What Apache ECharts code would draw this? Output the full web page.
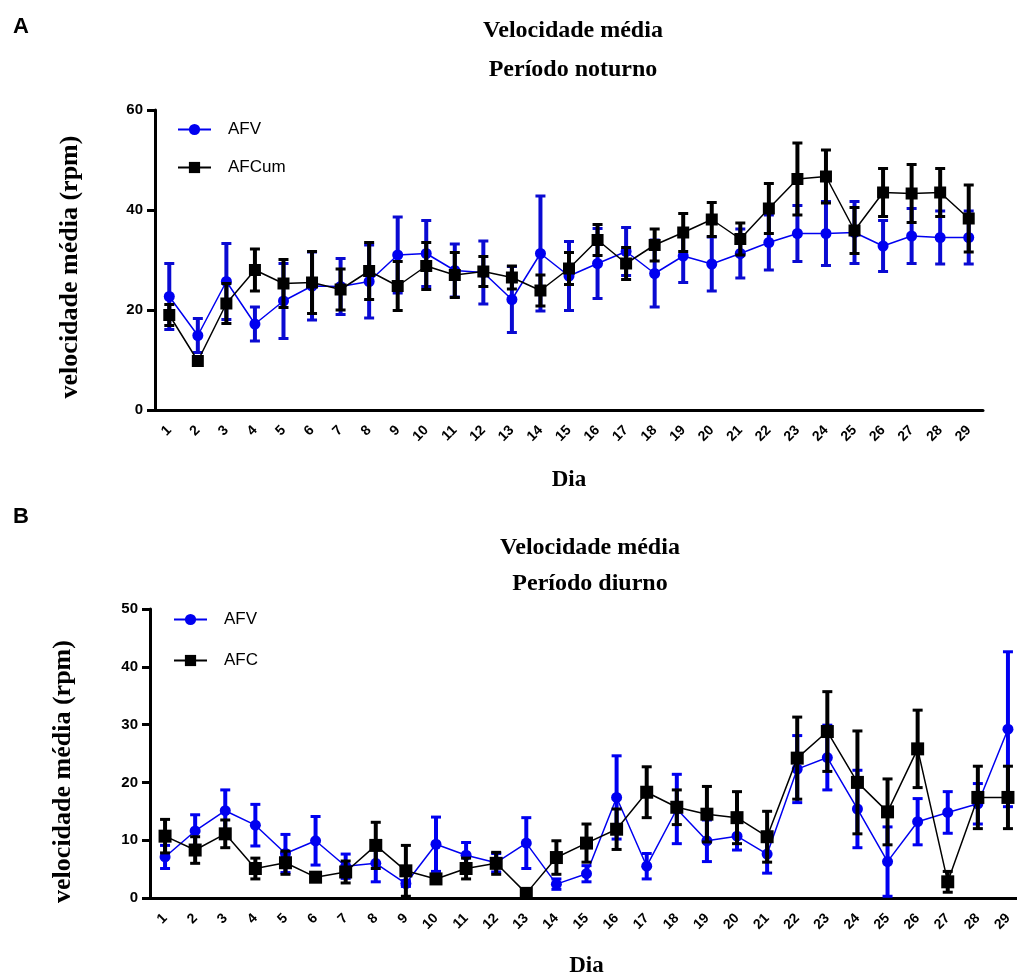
<!DOCTYPE html>
<html>
<head>
<meta charset="utf-8">
<script src="https://cdn.jsdelivr.net/npm/echarts@6/dist/echarts.min.js"></script>
<style>
body{margin:0;background:#fff;}
#chart{width:1017px;height:976px;}
</style>
</head>
<body>
<div id="chart"></div>
<script>
// dias 1..29
var dias = [];
for (var d = 1; d <= 29; d++) dias.push(String(d));

// A - periodo noturno
var noturnoAFV = [22.7,14.9,25.7,17.2,21.8,24.8,24.7,25.7,31.0,31.3,27.9,27.5,22.1,31.3,26.8,29.3,31.7,27.3,30.8,29.2,31.3,33.5,35.3,35.3,35.5,32.8,34.8,34.5,34.5];
var noturnoAFVerr = [6.6,3.4,7.6,3.4,7.5,6.8,5.6,7.3,7.6,6.6,5.3,6.3,6.6,11.5,6.9,7.0,4.8,6.7,5.3,5.4,4.9,5.5,5.6,6.4,6.2,5.1,5.5,5.3,5.3];
var noturnoAFCum = [19.0,9.8,21.3,28.0,25.3,25.5,24.1,27.8,24.8,28.8,27.0,27.7,26.5,23.9,28.3,34.0,29.3,33.0,35.5,38.1,34.2,40.3,46.2,46.7,35.9,43.5,43.3,43.5,38.3];
var noturnoAFCumErr = [2.1,0.8,4.0,4.2,4.8,6.2,4.1,5.7,4.9,4.7,4.5,3.0,2.3,3.1,3.2,3.1,3.2,3.2,3.8,3.4,3.2,5.0,7.2,5.3,4.6,4.8,5.8,4.8,6.7];

// B - periodo diurno
var diurnoAFV = [7.1,11.6,15.1,12.6,7.7,9.9,5.5,6.0,2.5,9.3,7.4,6.1,9.5,2.4,4.2,17.4,5.5,15.4,9.9,10.7,7.6,22.3,24.3,15.4,6.3,13.2,14.8,16.3,29.2];
var diurnoAFVerr = [2.0,2.8,3.6,3.6,3.3,4.2,2.1,3.2,0.5,4.7,2.2,1.6,4.4,0.9,1.4,7.2,2.2,6.0,3.6,2.4,3.3,5.8,5.6,6.7,6.0,4.0,3.6,3.5,13.4];
var diurnoAFC = [10.7,8.3,11.1,5.1,6.1,3.6,4.5,9.1,4.7,3.3,5.1,6.0,0.8,7.0,9.5,11.9,18.3,15.7,14.5,13.9,10.6,24.2,28.8,20.0,14.9,25.8,2.8,17.4,17.4];
var diurnoAFCerr = [2.9,2.3,2.4,1.8,2.0,0.4,1.9,4.0,4.4,0.4,1.8,1.9,0.2,2.9,3.3,3.5,4.4,3.0,4.8,4.5,4.4,7.1,6.9,8.9,5.7,6.7,1.8,5.4,5.4];

var BLUE = '#0000f0';
var BLUE_ERR = '#0a0ad2';
var BLACK = '#000000';
var sans = 'Liberation Sans, Arial, sans-serif';
var serif = 'Liberation Serif, Times New Roman, serif';

function errData(mean, err) {
	return mean.map(function (m, i) { return [i, m - err[i], m + err[i]]; });
}

function errRender(color, cap) {
	return function (params, api) {
		var x = api.value(0);
		var top = api.coord([x, api.value(2)]);
		var bot = api.coord([x, api.value(1)]);
		return {
			type: 'group',
			children: [
				{type: 'line', shape: {x1: top[0], y1: top[1], x2: bot[0], y2: bot[1]}, style: {stroke: color, lineWidth: 4}},
				{type: 'line', shape: {x1: top[0] - cap, y1: top[1], x2: top[0] + cap, y2: top[1]}, style: {stroke: color, lineWidth: 3}},
				{type: 'line', shape: {x1: bot[0] - cap, y1: bot[1], x2: bot[0] + cap, y2: bot[1]}, style: {stroke: color, lineWidth: 3}}
			]
		};
	};
}

function xAxisCfg(gi) {
	return {
		type: 'category', gridIndex: gi, data: dias, boundaryGap: true,
		name: 'Dia', nameLocation: 'middle', nameGap: gi === 0 ? 59 : 57,
		nameTextStyle: {fontFamily: serif, fontWeight: 'bold', fontSize: 23, color: '#000'},
		axisLine: {lineStyle: {color: '#000', width: 3}},
		axisTick: {alignWithLabel: true, length: 7, lineStyle: {color: '#000', width: 2.5}},
		axisLabel: {rotate: 45, margin: 18, interval: 0, fontFamily: sans, fontWeight: 'bold', fontSize: 14, color: '#000'},
		splitLine: {show: false}
	};
}

function yAxisCfg(gi, max, interval) {
	return {
		type: 'value', gridIndex: gi, min: 0, max: max, interval: interval,
		name: 'velocidade média (rpm)', nameLocation: 'middle', nameGap: gi === 0 ? 72 : 74,
		nameTextStyle: {fontFamily: serif, fontWeight: 'bold', fontSize: 26, color: '#000',
			padding: gi === 0 ? [0, 14, 0, 0] : [0, 36, 0, 0]},
		axisLine: {show: true, lineStyle: {color: '#000', width: 3}},
		axisTick: {show: true, length: 8, lineStyle: {color: '#000', width: 3}},
		axisLabel: {margin: 12, fontFamily: sans, fontWeight: 'bold', fontSize: 15, color: '#000'},
		splitLine: {show: false}
	};
}

var chart = echarts.init(document.getElementById('chart'));
chart.setOption({
	animation: false,
	backgroundColor: '#fff',
	title: [
		{text: 'Velocidade média\nPeríodo noturno', left: 568, top: 6, textAlign: 'center',
			textStyle: {fontFamily: serif, fontWeight: 'bold', fontSize: 24, lineHeight: 39, color: '#000'}},
		{text: 'Velocidade média\nPeríodo diurno', left: 585, top: 525, textAlign: 'center',
			textStyle: {fontFamily: serif, fontWeight: 'bold', fontSize: 24, lineHeight: 36, color: '#000'}},
		{text: 'A', left: 8, top: 11, textStyle: {fontFamily: sans, fontWeight: 'bold', fontSize: 22, color: '#000'}},
		{text: 'B', left: 8, top: 501, textStyle: {fontFamily: sans, fontWeight: 'bold', fontSize: 22, color: '#000'}}
	],
	legend: [
		{data: ['AFV', 'AFCum'], orient: 'vertical', left: 172, top: 116, itemWidth: 33, itemHeight: 14, itemGap: 21,
			textStyle: {fontFamily: sans, fontSize: 17, color: '#000', padding: [0, 0, 0, 12]}},
		{data: ['AFV', 'AFC'], orient: 'vertical', left: 168, top: 606, itemWidth: 33, itemHeight: 14, itemGap: 24,
			textStyle: {fontFamily: sans, fontSize: 17, color: '#000', padding: [0, 0, 0, 12]}}
	],
	grid: [
		{left: 155, top: 110, width: 828, height: 300, outerBoundsMode: 'none'},
		{left: 150, top: 609, width: 873, height: 289, outerBoundsMode: 'none'}
	],
	xAxis: [xAxisCfg(0), xAxisCfg(1)],
	yAxis: [yAxisCfg(0, 60, 20), yAxisCfg(1, 50, 10)],
	series: [
		{type: 'custom', name: 'AFV erro A', xAxisIndex: 0, yAxisIndex: 0, z: 2, renderItem: errRender(BLUE_ERR, 5),
			data: errData(noturnoAFV, noturnoAFVerr), encode: {x: 0, y: [1, 2]}, silent: true},
		{type: 'line', name: 'AFV', xAxisIndex: 0, yAxisIndex: 0, z: 3, data: noturnoAFV,
			symbol: 'circle', symbolSize: 11, color: BLUE, lineStyle: {color: BLUE, width: 1.5}, itemStyle: {color: BLUE}},
		{type: 'custom', name: 'AFCum erro', xAxisIndex: 0, yAxisIndex: 0, z: 4, renderItem: errRender(BLACK, 5),
			data: errData(noturnoAFCum, noturnoAFCumErr), encode: {x: 0, y: [1, 2]}, silent: true},
		{type: 'line', name: 'AFCum', xAxisIndex: 0, yAxisIndex: 0, z: 5, data: noturnoAFCum,
			symbol: 'rect', symbolSize: 12, color: BLACK, lineStyle: {color: BLACK, width: 1.5}, itemStyle: {color: BLACK}},

		{type: 'custom', name: 'AFV erro B', xAxisIndex: 1, yAxisIndex: 1, z: 2, renderItem: errRender(BLUE, 5),
			data: errData(diurnoAFV, diurnoAFVerr), encode: {x: 0, y: [1, 2]}, silent: true},
		{type: 'line', name: 'AFV', xAxisIndex: 1, yAxisIndex: 1, z: 3, data: diurnoAFV,
			symbol: 'circle', symbolSize: 11, color: BLUE, lineStyle: {color: BLUE, width: 1.5}, itemStyle: {color: BLUE}},
		{type: 'custom', name: 'AFC erro', xAxisIndex: 1, yAxisIndex: 1, z: 4, renderItem: errRender(BLACK, 5),
			data: errData(diurnoAFC, diurnoAFCerr), encode: {x: 0, y: [1, 2]}, silent: true},
		{type: 'line', name: 'AFC', xAxisIndex: 1, yAxisIndex: 1, z: 5, data: diurnoAFC,
			symbol: 'rect', symbolSize: 13, color: BLACK, lineStyle: {color: BLACK, width: 1.5}, itemStyle: {color: BLACK}}
	]
});
</script>
</body>
</html>
